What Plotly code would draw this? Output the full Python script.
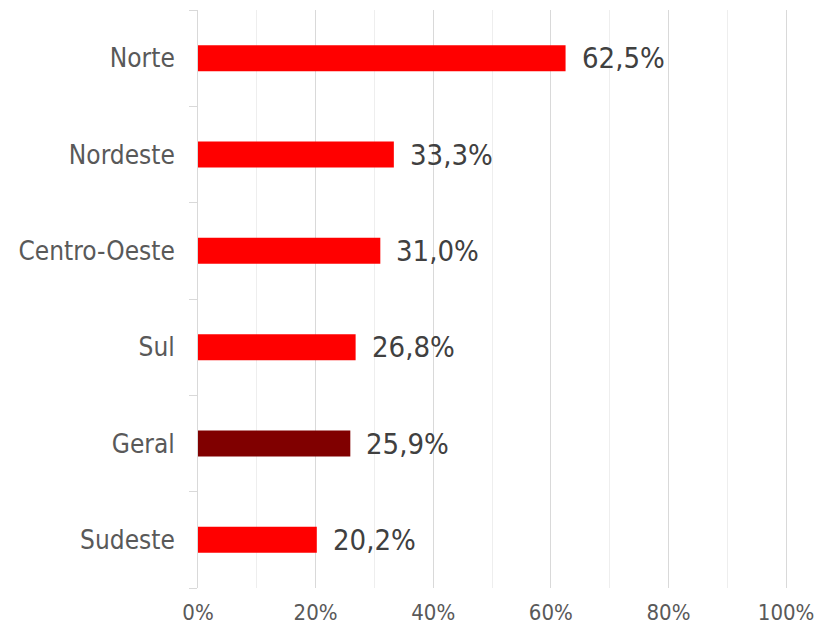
import plotly.graph_objects as go

# ---- data (top to bottom as in the chart) ----
regions = ["Norte", "Nordeste", "Centro-Oeste", "Sul", "Geral", "Sudeste"]
shares = [0.625, 0.333, 0.310, 0.268, 0.259, 0.202]
bar_colors = ["#ff0000", "#ff0000", "#ff0000", "#ff0000", "#800000", "#ff0000"]
x_ticks = [0, 0.2, 0.4, 0.6, 0.8, 1.0]
x_tick_labels = ["0%", "20%", "40%", "60%", "80%", "100%"]

FONT = "Liberation Sans Narrow, DejaVu Sans Condensed, sans-serif"
AXIS_GREY = "#595959"
LABEL_GREY = "#404040"
GRID = "#d9d9d9"

fig = go.Figure(go.Bar(
    x=shares,
    y=regions,
    orientation="h",
    marker=dict(color=bar_colors, line=dict(width=0)),
    width=0.27,
    hoverinfo="skip",
))

# value labels just past the end of each bar
for reg, val in zip(regions, shares):
    fig.add_annotation(
        x=val, y=reg, text=f"{val * 100:.1f}%".replace(".", ","),
        showarrow=False, xanchor="left", xshift=14,
        font=dict(family=FONT, size=29, color=LABEL_GREY),
    )

fig.update_layout(
    width=817, height=634,
    # plot area a bit wider than 0-100% so the 100% gridline is not clipped
    margin=dict(l=198, r=25, t=10, b=46, autoexpand=False),
    paper_bgcolor="white", plot_bgcolor="white",
    showlegend=False,
    font=dict(family=FONT, color=AXIS_GREY),
    xaxis=dict(
        range=[0, 1.01], tickvals=x_ticks, ticktext=x_tick_labels,
        showgrid=True, gridcolor=GRID, gridwidth=1,
        minor=dict(dtick=0.1, tick0=0, showgrid=True, gridcolor="#eeeeee", gridwidth=1),
        zeroline=False, showline=False, ticks="",
        ticklabelstandoff=9,
        tickfont=dict(size=22, color=AXIS_GREY),
        fixedrange=True,
    ),
    yaxis=dict(
        categoryorder="array", categoryarray=regions[::-1],
        showline=True, linecolor=GRID, linewidth=1,
        ticks="outside", tickson="boundaries", ticklen=8, tickcolor=GRID,
        ticklabelstandoff=17,
        tickfont=dict(size=26, color=AXIS_GREY),
        showgrid=False, fixedrange=True,
    ),
)

fig.write_html("out.html", config={"displayModeBar": False},
               post_script="document.body.style.margin='0';")
